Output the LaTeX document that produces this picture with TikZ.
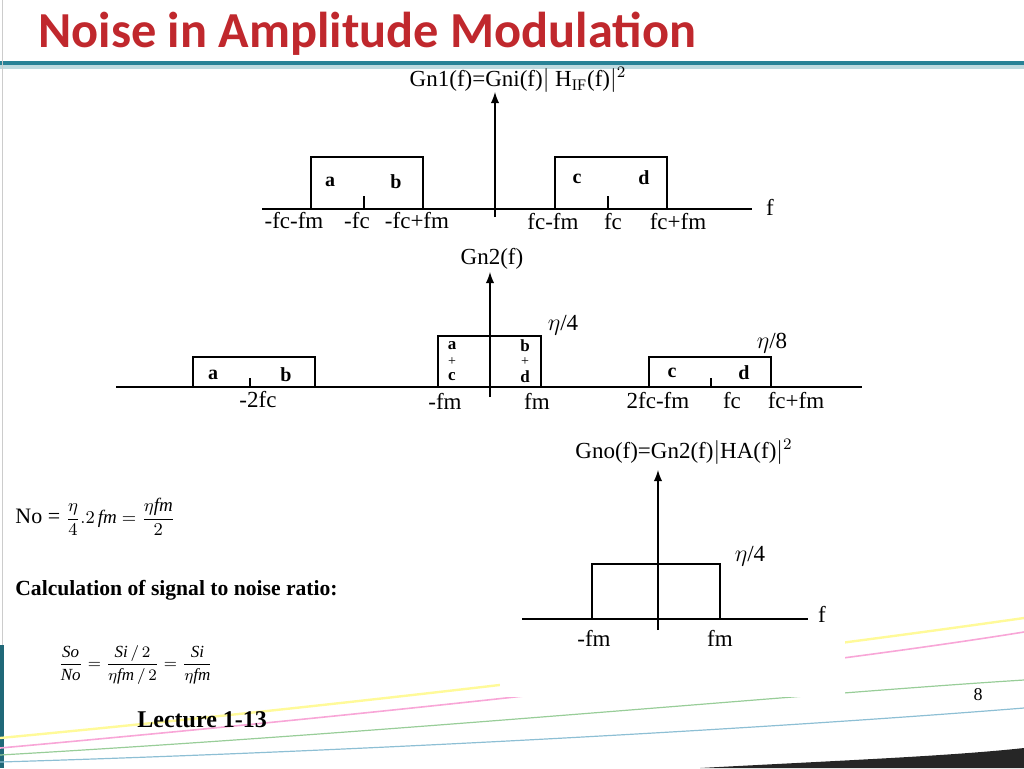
\documentclass[tikz,border=0pt]{standalone}
\usepackage{fontspec}
\setmainfont{Liberation Serif}
\newfontfamily\titlefont{Carlito}
\usetikzlibrary{positioning}
\definecolor{titlered}{RGB}{192,40,45}
\definecolor{barteal}{RGB}{40,130,150}
\begin{document}
\begin{tikzpicture}[x={(0.5pt,0)},y={(0,-0.5pt)},
  lbl/.style={inner sep=0pt,font=\fontsize{11.5}{13}\selectfont},
  bandlbl/.style={inner sep=0pt,font=\bfseries\fontsize{10}{12}\selectfont},
  stacklbl/.style={inner sep=0pt,font=\bfseries\fontsize{8.5}{9}\selectfont},
  plus/.style={inner sep=0pt,font=\fontsize{7}{7}\selectfont},
  axis/.style={line width=0.9pt},
  band/.style={line width=0.6pt}]
\useasboundingbox (0,0) rectangle (1024,768);
% slide decoration
\fill[barteal] (0,61) rectangle (1024,65);
\fill[barteal!30] (0,65) rectangle (1024,69);
\draw[gray!40] (2,0) -- (2,645);
\fill[barteal!80!black] (0,645) rectangle (4,768);
\draw[magenta!35,line width=0.8pt] (0,748) .. controls (400,712) and (800,668) .. (1024,632);
\draw[yellow!40,line width=1.2pt] (0,738) .. controls (400,700) and (800,650) .. (1024,618);
\draw[green!35!gray!60,line width=0.6pt] (0,755) .. controls (400,732) and (800,694) .. (1024,680);
\draw[cyan!50!gray!70,line width=0.6pt] (0,762) .. controls (400,750) and (800,726) .. (1024,708);
\fill[black!85] (700,768) .. controls (850,760) and (950,756) .. (1024,748) -- (1024,768) -- cycle;
\fill[white] (500,440) rectangle (845,697);
\node[anchor=west,inner sep=0pt,text=titlered,font=\titlefont\bfseries\fontsize{25.2}{28}\selectfont] (title) at (38,34) {Noise in Amplitude Modulation};
% first spectrum
\draw[axis] (262,209) -- (752,209);
\node[lbl] (f1) at (770,207) {f};
\draw[axis,-latex] (495,217) -- (495,92);
\node[lbl] (gn1) at (518,80) {Gn1(f)=Gni(f)$|$ H\textsubscript{IF}(f)$|^2$};
\draw[band] (311,209) |- (423,157) -- (423,209);
\draw[band] (364,196) -- (364,209);
\draw[band] (555,209) |- (667,157) -- (667,209);
\draw[band] (608,196) -- (608,209);
\node[bandlbl] (a1) at (330,182) {a};
\node[bandlbl] (b1) at (396,182) {b};
\node[bandlbl] (c1) at (577,179) {c};
\node[bandlbl] (d1) at (644,178) {d};
\node[lbl] at (294,221) {-fc-fm};
\node[lbl] at (357,221) {-fc};
\node[lbl] at (417,221) {-fc+fm};
\node[lbl] at (553,222) {fc-fm};
\node[lbl] at (613,222) {fc};
\node[lbl] at (678,222) {fc+fm};
% second spectrum
\draw[axis] (116,387) -- (862,387);
\draw[axis,-latex] (490,397) -- (490,272);
\node[lbl] (gn2) at (492,259) {Gn2(f)};
\draw[band] (193,387) |- (315,357) -- (315,387);
\draw[band] (250,378) -- (250,387);
\draw[band] (438,387) |- (541,336) -- (541,387);
\draw[band] (649,387) |- (771,357) -- (771,387);
\draw[band] (711,378) -- (711,387);
\node[bandlbl] at (213,375) {a};
\node[bandlbl] at (286,375) {b};
\node[stacklbl] (a2) at (452,346) {a};
\node[plus] (p1) at (452,362) {+};
\node[stacklbl] (c2) at (452,377) {c};
\node[stacklbl] (b2) at (525,346) {b};
\node[plus] (p2) at (525,362) {+};
\node[stacklbl] (d2) at (525,377) {d};
\node[bandlbl] at (672,373) {c};
\node[bandlbl] at (744,373) {d};
\node[lbl] at (563,325) {$\eta$/4};
\node[lbl] at (772,343) {$\eta$/8};
\node[lbl] at (258,400) {-2fc};
\node[lbl] at (445,401) {-fm};
\node[lbl] at (537,401) {fm};
\node[lbl] at (658,401) {2fc-fm};
\node[lbl] at (732,401) {fc};
\node[lbl] at (796,401) {fc+fm};
% output spectrum
\draw[axis] (522,619) -- (808,619);
\node[lbl] at (822,614) {f};
\draw[axis,-latex] (658,630) -- (658,470);
\node[lbl] (gno) at (684,452) {Gno(f)=Gn2(f)$|$HA(f)$|^2$};
\draw[band] (592,619) |- (720,564) -- (720,619);
\node[lbl] at (750,556) {$\eta$/4};
\node[lbl] at (594,638) {-fm};
\node[lbl] at (720,638) {fm};
% equations
\node[anchor=west,inner sep=0pt,font=\fontsize{9.5}{11}\selectfont] (eqno) at (15,517)
  {\fontsize{11}{13}\selectfont No = \fontsize{9.5}{11}\selectfont$\displaystyle\frac{\eta}{4}.2\,\mathit{fm}=\frac{\eta\mathit{fm}}{2}$};
\node[anchor=west,inner sep=0pt,font=\bfseries\fontsize{10.8}{13}\selectfont] (calc) at (15,590)
  {Calculation of signal to noise ratio:};
\node[anchor=west,inner sep=0pt,font=\fontsize{8.5}{10}\selectfont] (snr) at (58,665)
  {$\displaystyle\frac{\mathit{So}}{\mathit{No}}=\frac{\mathit{Si}\,/\,2}{\eta\mathit{fm}\,/\,2}=\frac{\mathit{Si}}{\eta\mathit{fm}}$};
\node[anchor=west,inner sep=0pt,font=\bfseries\fontsize{12}{14}\selectfont] (lect) at (137,720) {Lecture 1-13};
\node[inner sep=0pt,font=\fontsize{9}{11}\selectfont] (page) at (978,695) {8};
\end{tikzpicture}
\end{document}
